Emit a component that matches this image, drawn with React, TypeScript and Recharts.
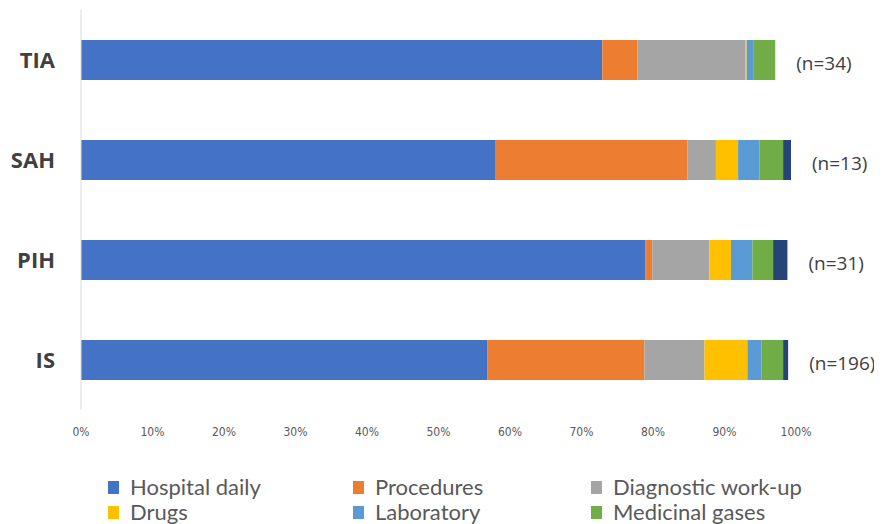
import { FC } from 'react'
import { Bar, BarChart, LabelList, XAxis, YAxis } from 'recharts'

const categories = ['TIA', 'SAH', 'PIH', 'IS']
const patientCounts = [34, 13, 31, 196]

const hospitalDaily = [72.9, 57.9, 78.9, 56.8]
const procedures = [4.9, 26.9, 1.0, 22.0]
const diagnostic = [15.1, 4.0, 8.0, 8.4]
const drugs = [0.2, 3.1, 3.0, 6.0]
const laboratory = [0.9, 3.0, 3.0, 2.0]
const medicinalGases = [3.1, 3.3, 2.9, 3.0]
const other = [0, 1.1, 2.0, 0.7]

const xTicks = [0, 10, 20, 30, 40, 50, 60, 70, 80, 90, 100]

const SERIES = [
	{ key: 'hospital', name: 'Hospital daily', color: '#4472C4', values: hospitalDaily },
	{ key: 'procedures', name: 'Procedures', color: '#ED7D31', values: procedures },
	{ key: 'diagnostic', name: 'Diagnostic work-up', color: '#A5A5A5', values: diagnostic },
	{ key: 'drugs', name: 'Drugs', color: '#FFC000', values: drugs },
	{ key: 'laboratory', name: 'Laboratory', color: '#5B9BD5', values: laboratory },
	{ key: 'gases', name: 'Medicinal gases', color: '#70AD47', values: medicinalGases },
	{ key: 'other', name: 'Other', color: '#264478', values: other },
]

// legend only lists the first six series
const LEGEND_ROWS = [
	[SERIES[0], SERIES[1], SERIES[2]],
	[SERIES[3], SERIES[4], SERIES[5]],
]
const LEGEND_COLS = [100, 345, 583]

const data = categories.map((name, i) => {
	const row: Record<string, string | number> = { name, n: `(n=${patientCounts[i]})` }
	let total = 0
	SERIES.forEach((s) => {
		row[s.key] = s.values[i]
		total += s.values[i]
	})
	row.total = total
	return row
})

// the count sits just past the end of the whole stack; the first segment's
// width/value ratio gives the pixels per percent
const CountLabel = (props: any) => {
	const { x, y, width, height, index } = props
	const row = data[index]
	const pxPerUnit = Number(width) / Number(row.hospital)
	const end = Number(x) + pxPerUnit * Number(row.total)
	return (
		<text
			x={end + 21}
			y={Number(y) + Number(height) / 2 + 3}
			dominantBaseline="central"
			fontSize={19}
			fontFamily="'Open Sans', sans-serif"
			fill="#404040"
		>
			{row.n}
		</text>
	)
}

const App: FC = () => {
	return (
		<div style={{ width: 866, height: 516, position: 'relative' }}>
			<BarChart
				width={866}
				height={440}
				data={data}
				layout="vertical"
				margin={{ top: 2, right: 78, left: 0, bottom: 8 }}
			>
				<XAxis
					type="number"
					domain={[0, 100]}
					ticks={xTicks}
					tickFormatter={(v) => `${v}%`}
					axisLine={false}
					tickLine={false}
					tickSize={0}
					tickMargin={17}
					height={30}
					interval={0}
					tick={{ fontSize: 12, fill: '#595959', fontFamily: "'DejaVu Sans Condensed', sans-serif" }}
				/>
				<YAxis
					type="category"
					dataKey="name"
					width={73}
					axisLine={{ stroke: '#D9D9D9' }}
					tickLine={false}
					tickSize={0}
					tickMargin={26}
					tick={{ fontSize: 22, fontWeight: 'bold', fill: '#404040', fontFamily: "'Open Sans', sans-serif" }}
				/>
				{SERIES.map((s, idx) => (
					<Bar
						key={s.key}
						dataKey={s.key}
						name={s.name}
						stackId="cost"
						fill={s.color}
						barSize={40}
						isAnimationActive={false}
					>
						{idx === 0 && <LabelList dataKey="n" content={CountLabel} />}
					</Bar>
				))}
			</BarChart>
			<div style={{ position: 'relative', height: 76, fontFamily: 'Lato, sans-serif', fontSize: 22, color: '#595959' }}>
				{LEGEND_ROWS.map((row, r) =>
					row.map((s, c) => (
						<div
							key={s.key}
							style={{
								position: 'absolute',
								left: LEGEND_COLS[c],
								top: 27 + r * 25,
								display: 'flex',
								alignItems: 'center',
								whiteSpace: 'nowrap',
								lineHeight: '24px',
							}}
						>
							<span style={{ width: 11, height: 13, background: s.color, marginRight: 11, display: 'inline-block' }} />
							{s.name}
						</div>
					))
				)}
			</div>
		</div>
	)
}

export default App
